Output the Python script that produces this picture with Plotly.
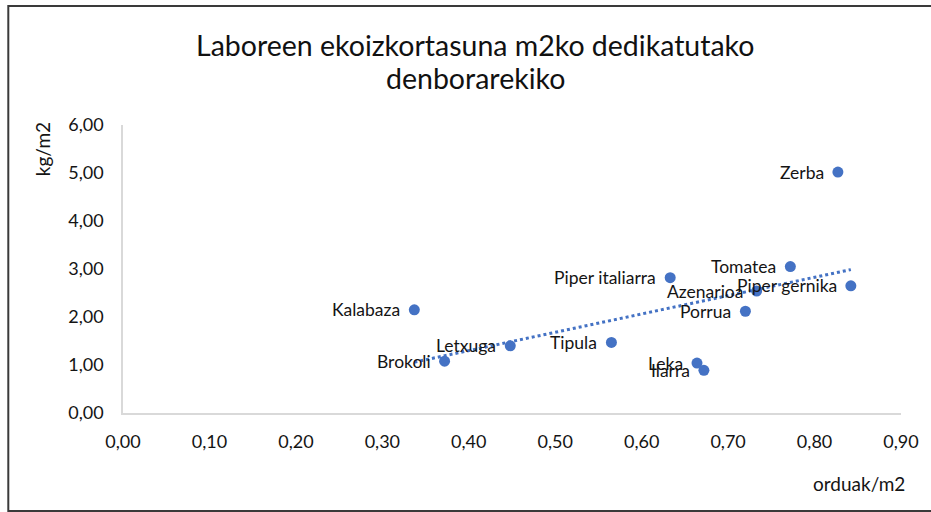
import numpy as np
import plotly.graph_objects as go

names = ["Zerba", "Tomatea", "Piper gernika", "Azenarioa", "Piper italiarra", "Porrua",
         "Kalabaza", "Tipula", "Letxuga", "Brokoli", "Leka", "Ilarra"]
hours_per_m2 = [0.827, 0.772, 0.842, 0.733, 0.633, 0.720, 0.337, 0.565, 0.448, 0.372, 0.664, 0.672]
kg_per_m2 = [5.02, 3.05, 2.65, 2.54, 2.82, 2.12, 2.15, 1.47, 1.40, 1.08, 1.04, 0.89]

x_ticks = [0.0, 0.1, 0.2, 0.3, 0.4, 0.5, 0.6, 0.7, 0.8, 0.9]
y_ticks = [0, 1, 2, 3, 4, 5, 6]

W, H = 931, 512
ML, MR, MT, MB = 123, 28, 125, 99
pw, ph = W - ML - MR, H - MT - MB

def px_x(p):
    return (p - ML) / pw

def px_y(p):
    return (H - MB - p) / ph

blue = "#4472C4"
font = "Lato, 'Open Sans', sans-serif"
txt = "#141414"

xa = np.array(hours_per_m2)
ya = np.array(kg_per_m2)
slope, intercept = np.polyfit(xa, ya, 1)
tx = np.array([xa.min(), xa.max()])
ty = slope * tx + intercept

fig = go.Figure()
fig.add_trace(go.Scatter(x=tx, y=ty, mode="lines",
                         line=dict(color=blue, width=3, dash="dot"),
                         hoverinfo="skip", showlegend=False))
fig.add_trace(go.Scatter(x=hours_per_m2, y=kg_per_m2, mode="markers",
                         marker=dict(color=blue, size=11), showlegend=False))

border = dict(color="#3a3a3a", width=2)
shapes = [
    dict(type="line", xref="paper", yref="paper", x0=px_x(8), x1=px_x(W + 5), y0=px_y(6), y1=px_y(6), line=border),
    dict(type="line", xref="paper", yref="paper", x0=px_x(8), x1=px_x(8), y0=px_y(5), y1=px_y(515), line=border),
    dict(type="line", xref="paper", yref="paper", x0=px_x(8), x1=px_x(W + 5), y0=px_y(511), y1=px_y(511), line=border),
]

annotations = [
    dict(text="Laboreen ekoizkortasuna m2ko dedikatutako", xref="paper", yref="paper",
         x=px_x(476), y=px_y(45), xanchor="center", yanchor="middle", showarrow=False,
         font=dict(family=font, size=28.5, color="#111111")),
    dict(text="denborarekiko", xref="paper", yref="paper",
         x=px_x(476), y=px_y(78), xanchor="center", yanchor="middle", showarrow=False,
         font=dict(family=font, size=28.5, color="#111111")),
    dict(text="kg/m2", xref="paper", yref="paper", x=px_x(42), y=px_y(149), textangle=-90,
         xanchor="center", yanchor="middle", showarrow=False,
         font=dict(family=font, size=19, color=txt)),
    dict(text="orduak/m2", xref="paper", yref="paper", x=px_x(909), y=px_y(483),
         xanchor="right", yanchor="middle", showarrow=False,
         font=dict(family=font, size=19, color=txt)),
]
for n, xv, yv in zip(names, hours_per_m2, kg_per_m2):
    annotations.append(dict(text=n, x=xv, y=yv, xref="x", yref="y", xanchor="right", yanchor="middle",
                            xshift=-12, showarrow=False,
                            font=dict(family=font, size=17.5, color=txt)))

fig.update_layout(
    width=W, height=H, margin=dict(l=ML, r=MR, t=MT, b=MB),
    paper_bgcolor="white", plot_bgcolor="white", separators=", ",
    shapes=shapes, annotations=annotations, showlegend=False,
    xaxis=dict(range=[0, 0.9], tickvals=x_ticks, tickformat=".2f", showgrid=False, zeroline=False,
               showline=True, linecolor="#D9D9D9", linewidth=1.5, ticks="", ticklabelstandoff=12,
               tickfont=dict(family=font, size=18, color=txt)),
    yaxis=dict(range=[0, 6], tickvals=y_ticks, tickformat=".2f", showgrid=False, zeroline=False,
               showline=True, linecolor="#D9D9D9", linewidth=1.5, ticks="", ticklabelstandoff=14,
               tickfont=dict(family=font, size=18, color=txt)),
)

fig.write_html("out.html", config={"displayModeBar": False},
               post_script="document.body.style.margin='0';document.body.style.overflow='hidden';")
